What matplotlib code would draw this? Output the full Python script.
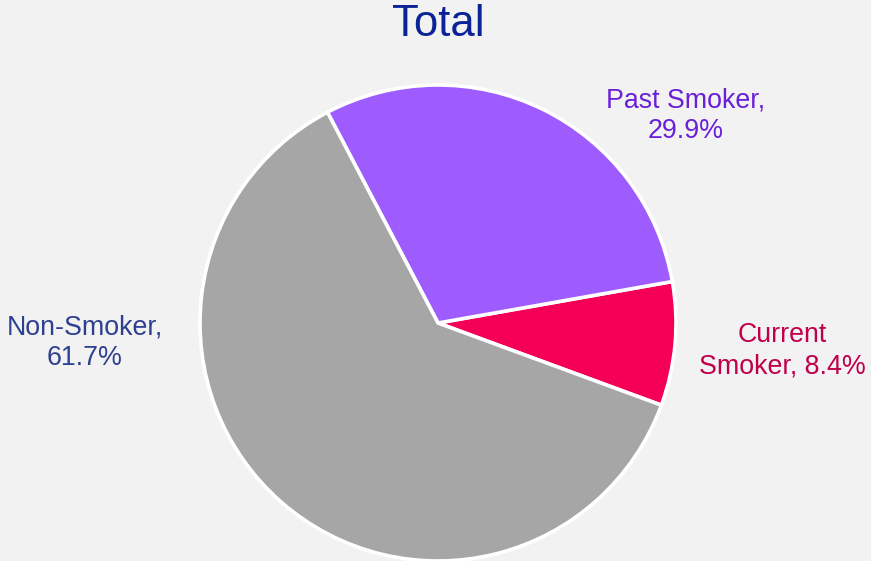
import matplotlib.pyplot as plt
import numpy as np

plt.rcParams['font.family'] = ['Liberation Sans', 'DejaVu Sans']

names = ["Current Smoker", "Past Smoker", "Non-Smoker"]
shares = [8.4, 29.9, 61.7]
colors = ["#F50057", "#9E5CFF", "#A6A6A6"]
label_colors = ["#C0004A", "#6A1FD8", "#2E4190"]

W, H = 871, 561
fig = plt.figure(figsize=(W / 100, H / 100), dpi=100)
fig.patch.set_facecolor("#F2F2F2")

cx, cy, r = 438, 323, 238
ax = fig.add_axes([(cx - r) / W, (H - cy - r) / H, 2 * r / W, 2 * r / H])
ax.set_facecolor("none")

start = -20.2
ax.pie(shares, colors=colors, startangle=start, counterclock=True,
       radius=1.0, wedgeprops=dict(edgecolor="white", linewidth=2.6))
ax.set_xlim(-1, 1)
ax.set_ylim(-1, 1)
ax.set_aspect("equal")
ax.axis("off")

# label positions in pie units
label_pos = [(1.445, -0.117), (1.042, 0.870), (-1.483, -0.083)]
texts = ["Current\nSmoker, {:.1f}%", "Past Smoker,\n{:.1f}%", "Non-Smoker,\n{:.1f}%"]
for t, v, (x, y), c in zip(texts, shares, label_pos, label_colors):
    ax.text(x, y, t.format(v), ha="center", va="center", fontsize=19.3,
            color=c, linespacing=1.25, clip_on=False)

fig.text(438 / W, 1 - 24 / H, "Total", ha="center", va="center",
         fontsize=31.5, color="#0A2396")

fig.savefig("out.png", dpi=100, facecolor=fig.get_facecolor())
